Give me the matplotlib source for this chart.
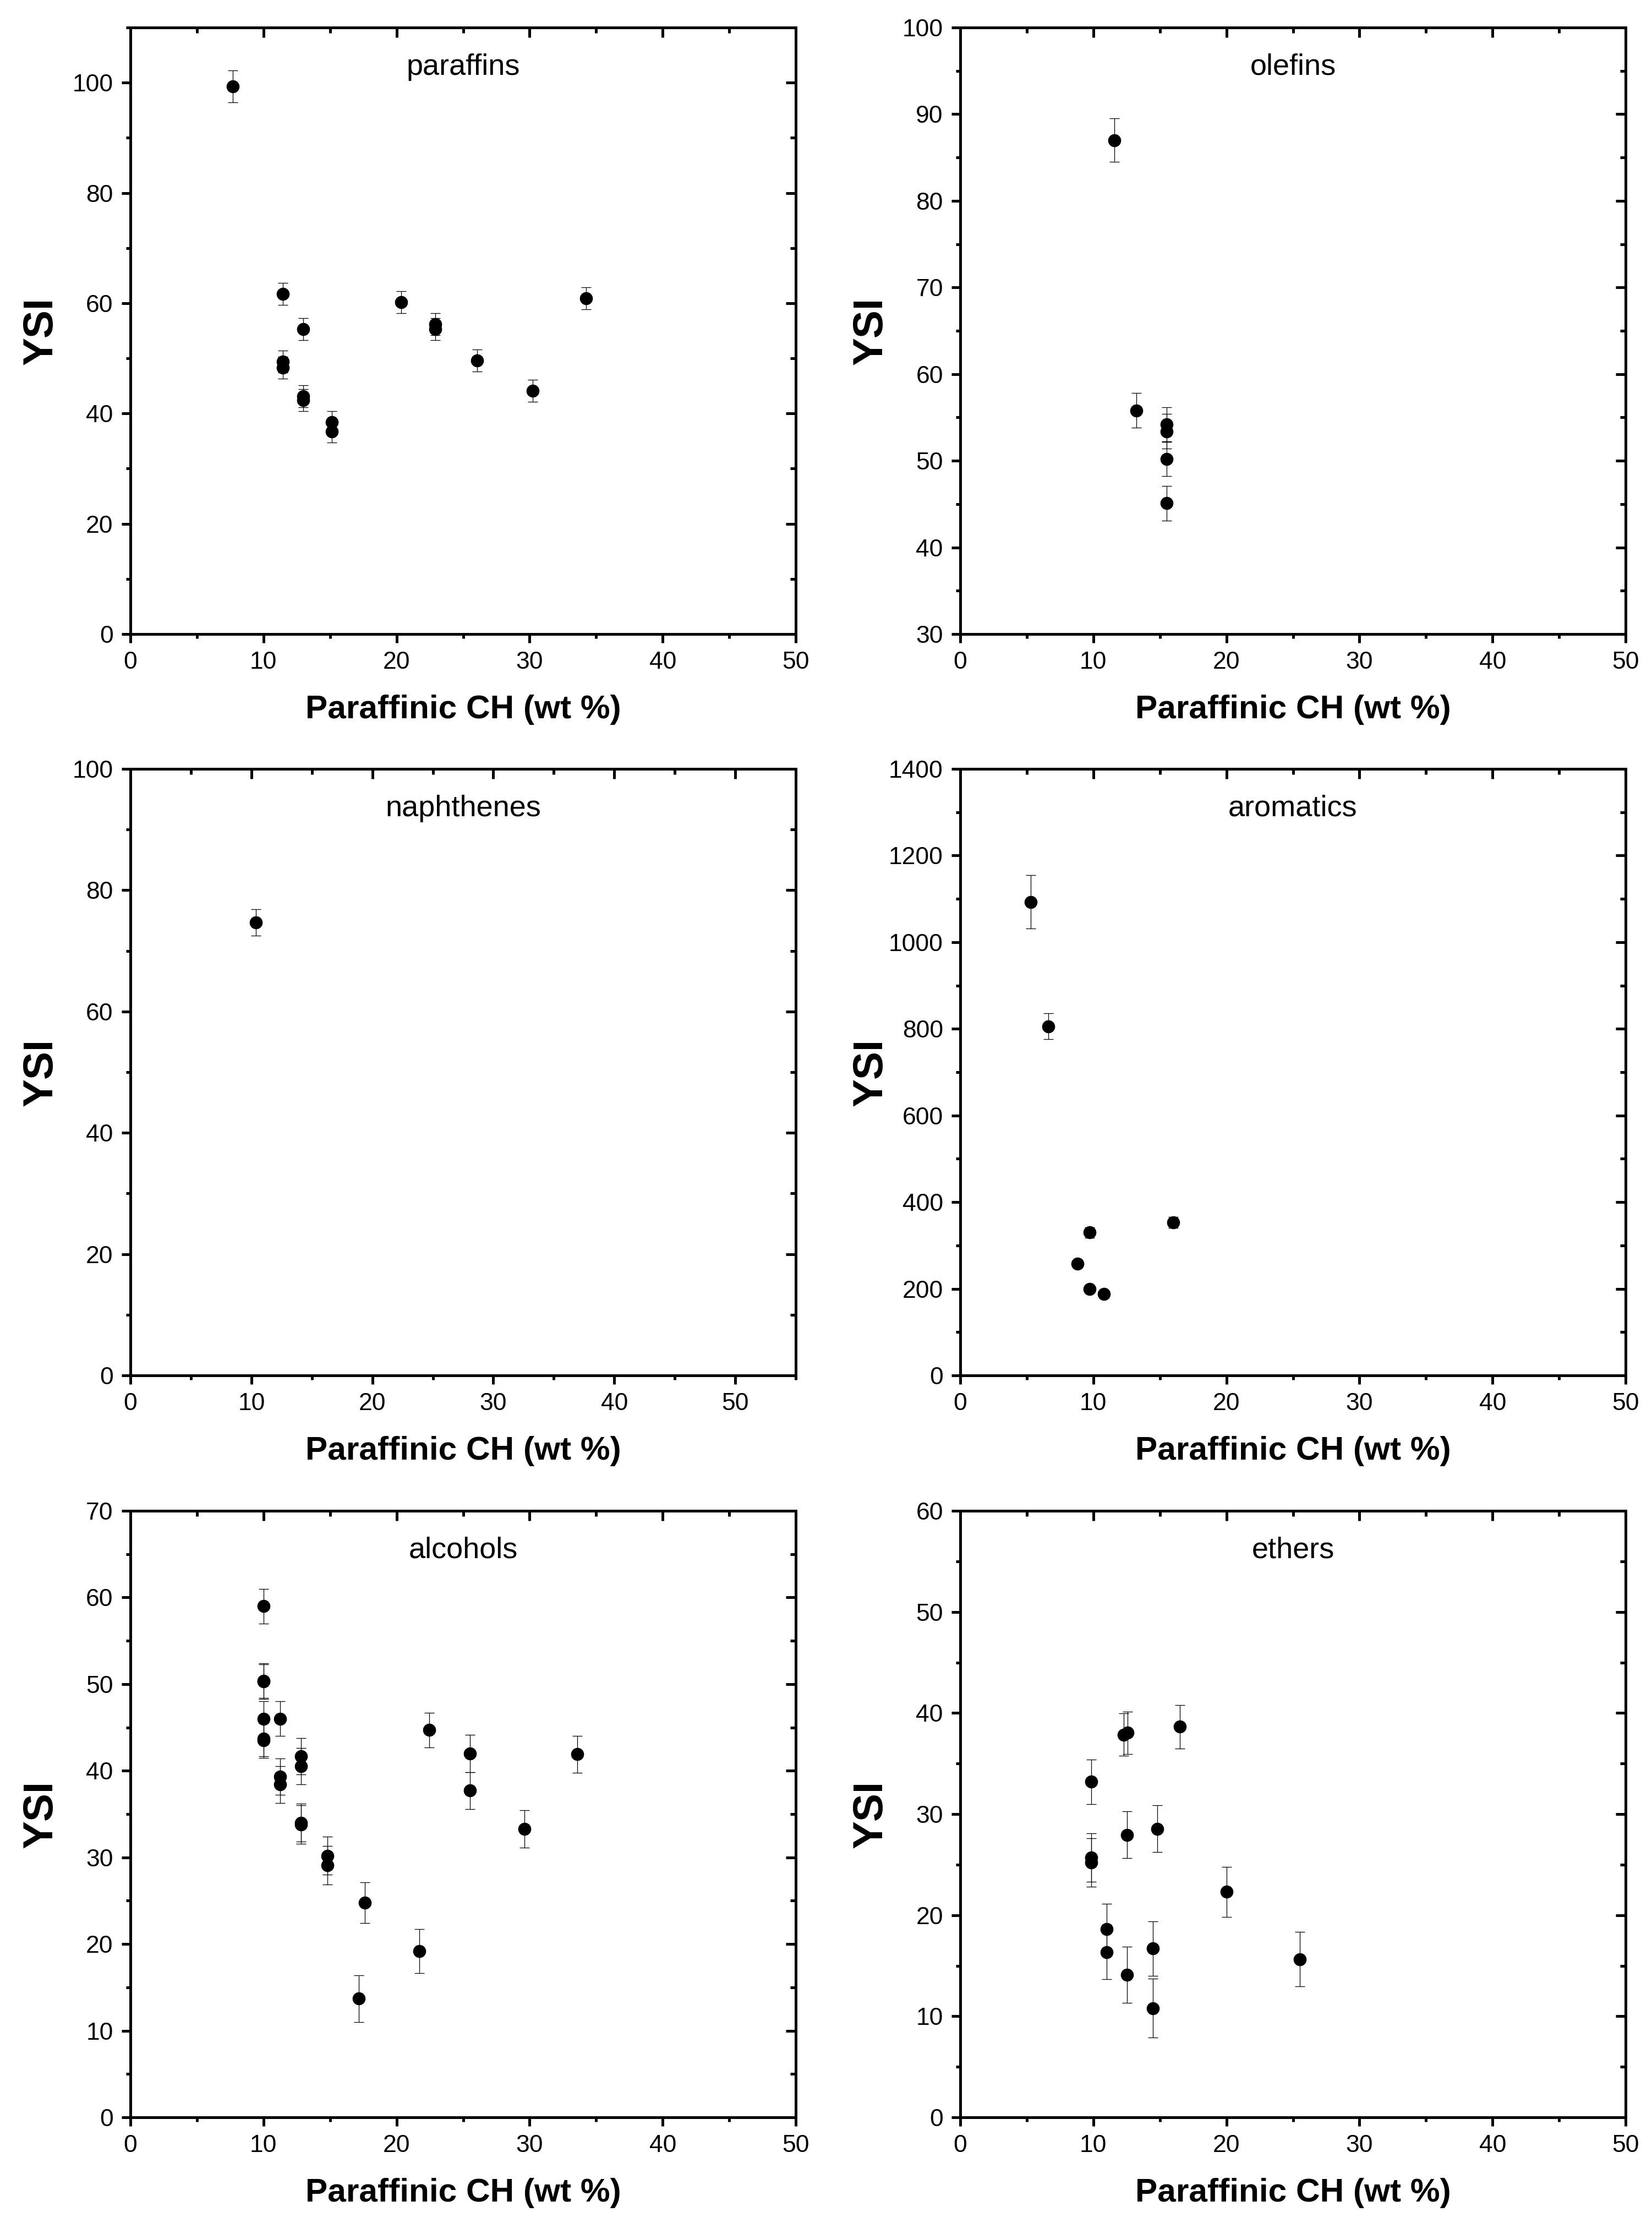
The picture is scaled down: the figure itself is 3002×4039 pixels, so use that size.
import matplotlib
matplotlib.use("Agg")
import matplotlib.pyplot as plt
from matplotlib.ticker import MultipleLocator

plt.rcParams['font.family'] = ['Liberation Sans', 'DejaVu Sans']

# --- data (x = paraffinic CH wt %, y = YSI, e = error) ---
paraffins_x = [7.7, 11.45, 11.45, 11.45, 13.0, 13.0, 13.0, 15.15, 15.15,
               20.35, 22.9, 22.9, 26.05, 30.25, 34.25]
paraffins_y = [99.3, 61.7, 49.4, 48.3, 55.3, 43.1, 42.4, 38.4, 36.7,
               60.2, 56.2, 55.3, 49.6, 44.1, 60.9]
paraffins_e = [2.9, 2.0, 2.0, 2.0, 2.0, 2.0, 2.0, 2.0, 2.0,
               2.0, 2.0, 2.0, 2.0, 2.0, 2.0]

olefins_x = [11.6, 13.25, 15.5, 15.5, 15.5, 15.5]
olefins_y = [87.0, 55.8, 54.2, 53.4, 50.2, 45.1]
olefins_e = [2.5, 2.0, 1.95, 2.0, 1.95, 2.0]

naphthenes_x = [10.37]
naphthenes_y = [74.7]
naphthenes_e = [2.2]

aromatics_x = [5.3, 6.6, 8.8, 9.7, 9.7, 10.8, 16.0]
aromatics_y = [1093, 806, 258, 330, 199, 188, 353]
aromatics_e = [62, 30, 9, 12, 7, 7, 13]

alcohols_x = [10.0, 10.0, 10.0, 10.0, 10.0, 10.0, 11.25, 11.25, 11.25,
              12.8, 12.8, 12.8, 12.8, 14.8, 14.8, 17.15, 17.6, 21.7,
              22.45, 25.5, 25.5, 29.6, 33.6]
alcohols_y = [59.0, 50.4, 50.3, 46.0, 43.7, 43.5, 46.0, 39.3, 38.4,
              41.65, 40.5, 34.0, 33.8, 30.2, 29.1, 13.7, 24.8, 19.2,
              44.7, 42.0, 37.7, 33.3, 41.9]
alcohols_e = [2.0, 2.0, 2.0, 2.0, 2.0, 2.0, 2.0, 2.1, 2.1,
              2.1, 2.1, 2.2, 2.2, 2.2, 2.2, 2.7, 2.35, 2.55,
              2.0, 2.15, 2.1, 2.15, 2.15]

ethers_x = [9.86, 9.86, 9.86, 11.02, 11.02, 12.29, 12.56, 12.53, 12.53,
            14.46, 14.46, 14.79, 16.49, 20.0, 25.5]
ethers_y = [33.2, 25.7, 25.2, 18.6, 16.35, 37.85, 38.05, 27.95, 14.1,
            16.7, 10.8, 28.55, 38.65, 22.3, 15.65]
ethers_e = [2.2, 2.4, 2.4, 2.5, 2.7, 2.1, 2.1, 2.3, 2.8,
            2.7, 2.9, 2.3, 2.15, 2.5, 2.7]

panels = [
    # name, x, y, err, xlim, ylim, y major, y minor
    ("paraffins", paraffins_x, paraffins_y, paraffins_e, (0, 50), (0, 110), 20, 10),
    ("olefins", olefins_x, olefins_y, olefins_e, (0, 50), (30, 100), 10, 5),
    ("naphthenes", naphthenes_x, naphthenes_y, naphthenes_e, (0, 55), (0, 100), 20, 10),
    ("aromatics", aromatics_x, aromatics_y, aromatics_e, (0, 50), (0, 1400), 200, 100),
    ("alcohols", alcohols_x, alcohols_y, alcohols_e, (0, 50), (0, 70), 10, 5),
    ("ethers", ethers_x, ethers_y, ethers_e, (0, 50), (0, 60), 10, 5),
]

W, H = 3002, 4039
fig = plt.figure(figsize=(W / 100, H / 100), dpi=100)

# axes boxes in pixels (left, top) -- all panels same size
col_left = [237, 1745]
row_top = [50, 1397, 2745]
ax_w, ax_h = 1209, 1102

LW = 3.6

for i, (name, xs, ys, es, xlim, ylim, ymaj, ymin) in enumerate(panels):
    r, c = divmod(i, 2)
    left = col_left[c] / W
    bottom = 1 - (row_top[r] + ax_h) / H
    ax = fig.add_axes([left, bottom, ax_w / W, ax_h / H])

    ax.errorbar(xs, ys, yerr=es, fmt='o', color='black', ms=16,
                ecolor='black', elinewidth=0.9, capsize=6.5, capthick=0.9,
                zorder=3)

    ax.set_xlim(*xlim)
    ax.set_ylim(*ylim)
    ax.xaxis.set_major_locator(MultipleLocator(10))
    ax.xaxis.set_minor_locator(MultipleLocator(5))
    ax.yaxis.set_major_locator(MultipleLocator(ymaj))
    ax.yaxis.set_minor_locator(MultipleLocator(ymin))
    if name == "paraffins":
        ax.set_yticks([0, 20, 40, 60, 80, 100])

    for sp in ax.spines.values():
        sp.set_linewidth(LW)
    ax.tick_params(which='major', direction='out', length=11.5, width=LW,
                   labelsize=32, pad=11)
    ax.tick_params(which='minor', direction='out', length=6, width=LW)

    # top and right: ticks pointing inward, no labels
    top = ax.secondary_xaxis('top')
    top.xaxis.set_major_locator(MultipleLocator(10))
    top.xaxis.set_minor_locator(MultipleLocator(5))
    top.tick_params(which='major', direction='in', length=13, width=LW, labeltop=False)
    top.tick_params(which='minor', direction='in', length=7.5, width=LW)
    right = ax.secondary_yaxis('right')
    right.yaxis.set_major_locator(MultipleLocator(ymaj))
    right.yaxis.set_minor_locator(MultipleLocator(ymin))
    right.tick_params(which='major', direction='in', length=13, width=LW, labelright=False)
    right.tick_params(which='minor', direction='in', length=7.5, width=LW)
    for sec in (top, right):
        for sp in sec.spines.values():
            sp.set_linewidth(LW)

    ax.set_xlabel("Paraffinic CH (wt %)", fontsize=43.5, fontweight='bold', va='center')
    ax.xaxis.set_label_coords(0.5, -0.125)
    ax.set_ylabel("YSI", fontsize=55, fontweight='bold', va='center')
    ax.yaxis.set_label_coords(-0.134, 0.5)

    ax.text(0.5, 0.935, name, transform=ax.transAxes, ha='center', va='center',
            fontsize=39)

fig.savefig("out.png", dpi=100)
